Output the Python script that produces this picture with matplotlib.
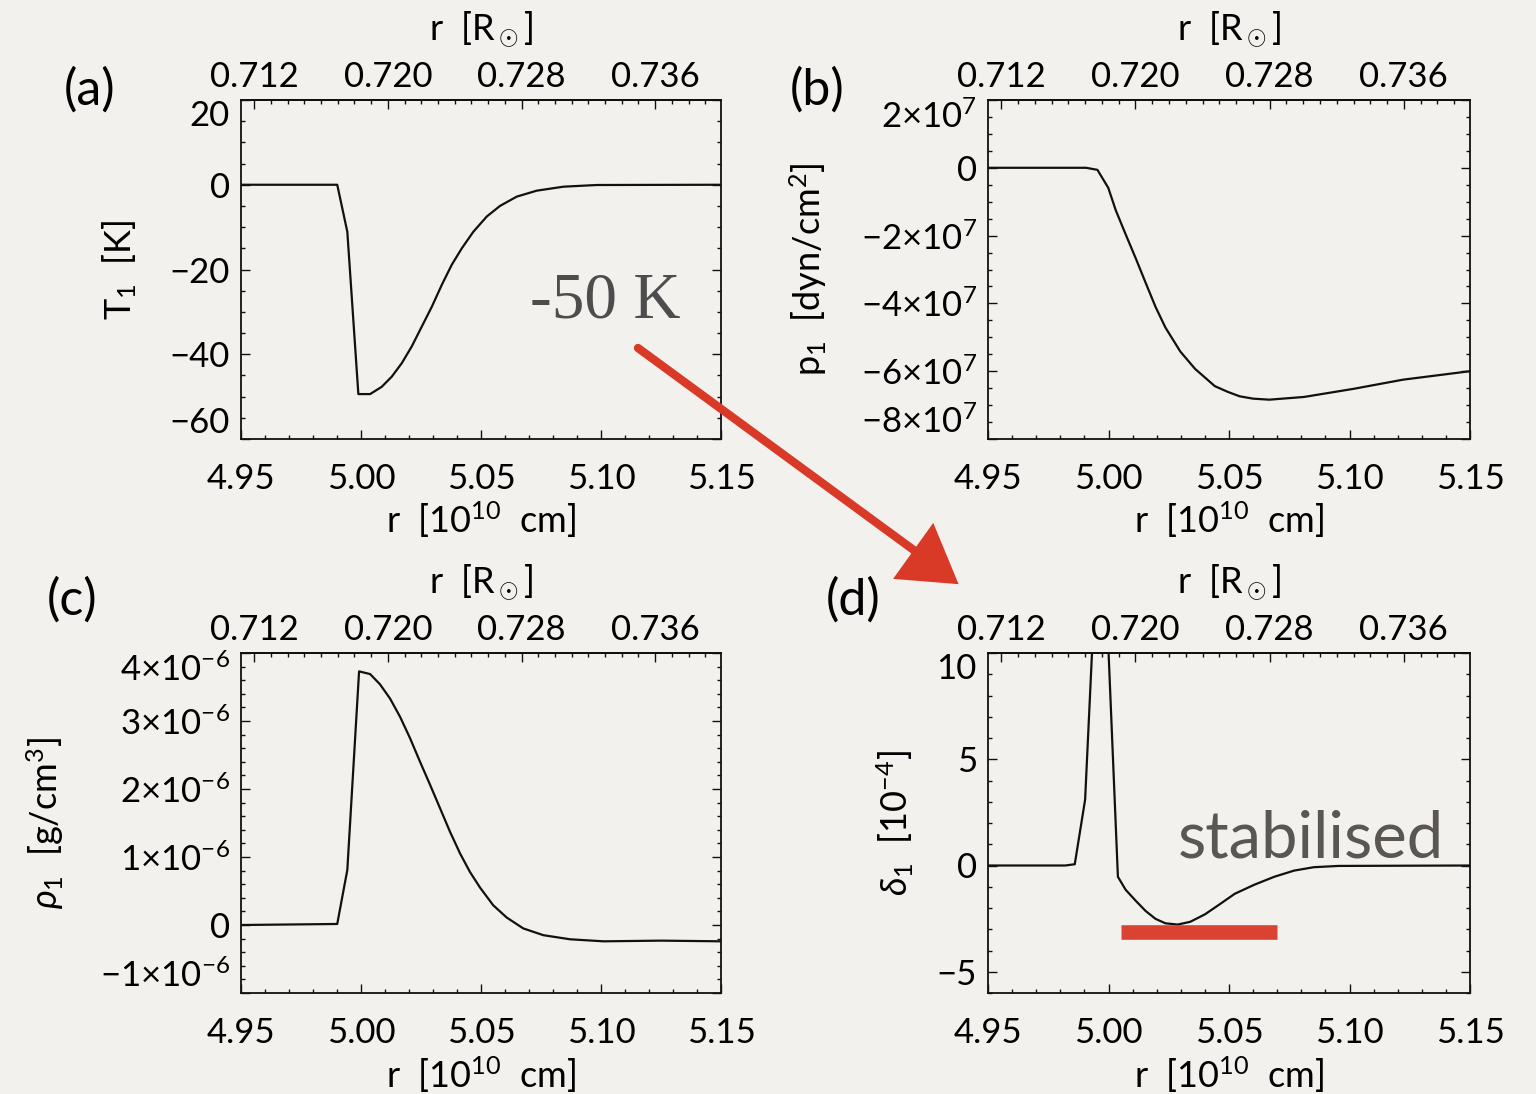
import matplotlib
matplotlib.use("Agg")
import matplotlib.pyplot as plt
from matplotlib.ticker import MultipleLocator, FixedLocator, FuncFormatter
from matplotlib.patches import Polygon
from matplotlib.lines import Line2D

plt.rcParams["font.family"] = ["Lato", "DejaVu Sans"]
plt.rcParams["mathtext.fontset"] = "custom"
plt.rcParams["mathtext.rm"] = "Lato"
plt.rcParams["mathtext.it"] = "Lato:italic"
plt.rcParams["mathtext.bf"] = "Lato:bold"

R_SUN = 6.96  # solar radius in 10^10 cm
BG = "#f2f1ee"
RED = "#d93a27"

# (a) temperature perturbation T1 [K]
r_T = [4.95, 4.9901, 4.9943, 4.9989, 5.0038, 5.0086, 5.0128, 5.017, 5.0211, 5.0253,
       5.0295, 5.0336, 5.0378, 5.042, 5.0468, 5.0524, 5.0579, 5.0649, 5.0732, 5.0843,
       5.0982, 5.15]
T1 = [0, 0, -11.1, -49.4, -49.4, -47.7, -45.3, -42.1, -38.2, -33.5,
      -28.8, -23.7, -18.9, -15.0, -11.1, -7.5, -5.0, -2.8, -1.4, -0.46,
      -0.06, 0]

# (b) pressure perturbation p1 [10^7 dyn/cm^2]
r_P = [4.95, 4.9907, 4.9954, 4.9999, 5.003, 5.0071, 5.0113, 5.0154, 5.0195, 5.0236,
       5.0298, 5.0359, 5.0441, 5.0495, 5.0544, 5.06, 5.0667, 5.0811, 5.1017, 5.1222, 5.15]
P1 = [0, 0, -0.06, -0.59, -1.25, -1.96, -2.67, -3.39, -4.10, -4.71,
      -5.42, -5.93, -6.44, -6.61, -6.74, -6.81, -6.84, -6.76, -6.52, -6.25, -6.0]

# (c) density perturbation rho1 [10^-6 g/cm^3]
r_rho = [4.95, 4.9901, 4.9943, 4.9992, 5.0038, 5.0079, 5.0121, 5.0163, 5.0204, 5.0246,
         5.0288, 5.0329, 5.0371, 5.0413, 5.0454, 5.0496, 5.0551, 5.0607, 5.0676, 5.076,
         5.0871, 5.101, 5.125, 5.15]
rho1 = [0, 0.015, 0.81, 3.73, 3.69, 3.54, 3.33, 3.06, 2.75, 2.40,
        2.06, 1.72, 1.37, 1.05, 0.78, 0.55, 0.29, 0.11, -0.05, -0.15,
        -0.21, -0.24, -0.23, -0.24]

# (d) superadiabaticity perturbation delta1 [10^-4]
r_d = [4.95, 4.9821, 4.986, 4.9903, 4.9948, 4.9993, 5.0039, 5.0071, 5.0113, 5.0154,
       5.0195, 5.0236, 5.0287, 5.0339, 5.04, 5.0462, 5.0524, 5.0606, 5.0688, 5.077,
       5.0852, 5.0955, 5.15]
d1 = [0, 0, 0.06, 3.1, 14.0, 12.0, -0.53, -1.14, -1.66, -2.14,
      -2.51, -2.72, -2.78, -2.65, -2.30, -1.82, -1.33, -0.90, -0.53, -0.24,
      -0.08, -0.02, 0]

top_ticks = [0.712, 0.720, 0.728, 0.736]
yticks_a = [-60, -40, -20, 0, 20]
yticks_b = [-8, -6, -4, -2, 0, 2]
yticks_c = [-1, 0, 1, 2, 3, 4]
yticks_d = [-5, 0, 5, 10]


def sci_label(exp):
    def fmt(v, pos):
        n = int(round(v))
        if n == 0:
            return "0"
        sign = "\u2212" if n < 0 else ""
        return f"{sign}{abs(n)}\u00d710$^{{{exp}}}$"
    return fmt


def plain_label(v, pos):
    return f"{v:g}".replace("-", "\u2212")


W, H = 1536, 1094
fig = plt.figure(figsize=(W / 100, H / 100), dpi=100, facecolor=BG)

boxes = {
    "a": (241, 100, 721, 439),
    "b": (988, 100, 1470, 439),
    "c": (241, 653, 721, 993),
    "d": (988, 653, 1470, 993),
}

panels = [
    ("a", r_T, T1, (-60, 20), yticks_a, 5, "T$_1$  [K]", -0.252, plain_label),
    ("b", r_P, P1, (-8, 2), yticks_b, 0.5, "p$_1$  [dyn/cm$^2$]", -0.373, sci_label("7")),
    ("c", r_rho, rho1, (-1, 4), yticks_c, 0.2, r"$\rho_1$  [g/cm$^3$]", -0.408, sci_label("-6")),
    ("d", r_d, d1, (-6, 10), yticks_d, 1, r"$\delta_1$  [10$^{-4}$]", -0.193, plain_label),
]

FS = 25
for key, x, y, ylim, yticks, minor, ylabel, ylab_x, yfmt in panels:
    x0, y0, x1, y1 = boxes[key]
    ax = fig.add_axes([x0 / W, 1 - y1 / H, (x1 - x0) / W, (y1 - y0) / H])
    ax.set_facecolor("none")
    ax.plot(x, y, color="#111111", lw=1.6)
    ax.set_xlim(4.95, 5.15)
    ax.set_ylim(*ylim)

    ax.xaxis.set_major_locator(MultipleLocator(0.05))
    ax.xaxis.set_minor_locator(MultipleLocator(0.01))
    ax.xaxis.set_major_formatter(FuncFormatter(lambda v, p: f"{v:.2f}"))
    ax.yaxis.set_major_locator(FixedLocator(yticks))
    ax.yaxis.set_minor_locator(MultipleLocator(minor))
    ax.yaxis.set_major_formatter(FuncFormatter(yfmt))

    ax.tick_params(which="both", direction="in", right=True, top=False, width=1.0,
                   labelsize=FS, color="#111111")
    ax.tick_params(which="major", length=6.5)
    ax.tick_params(which="minor", length=3.2)
    ax.tick_params(axis="x", pad=17)
    ax.tick_params(axis="y", pad=8)
    for s in ax.spines.values():
        s.set_linewidth(1.3)
        s.set_color("#111111")

    # end labels sit inside the axis range, as in the original IDL plot
    ticks = ax.yaxis.get_major_ticks()
    if yticks[-1] == ylim[1]:
        ticks[-1].label1.set_va("top")
    if yticks[0] == ylim[0]:
        ticks[0].label1.set_va("bottom")

    ax.set_xlabel("r  [10$^{10}$  cm]", fontsize=26)
    ax.xaxis.set_label_coords(0.5, -0.239)
    ax.xaxis.label.set_va("center")
    ax.set_ylabel(ylabel, fontsize=26)
    ax.yaxis.set_label_coords(ylab_x, 0.5)
    ax.yaxis.label.set_va("center")

    sec = ax.secondary_xaxis("top", functions=(lambda v: v / R_SUN, lambda v: v * R_SUN))
    sec.set_xticks(top_ticks)
    sec.xaxis.set_major_formatter(FuncFormatter(lambda v, p: f"{v:.3f}"))
    sec.xaxis.set_minor_locator(MultipleLocator(0.001))
    sec.tick_params(which="both", direction="in", width=1.0, labelsize=FS, pad=5,
                    color="#111111")
    sec.tick_params(which="major", length=6.5)
    sec.tick_params(which="minor", length=3.2)
    sec.spines["top"].set_linewidth(1.3)
    ax.text(0.5, 1.206, r"r  [R$_\odot$]", transform=ax.transAxes, fontsize=26,
            ha="center", va="center")

    if key == "d":
        ax.plot([5.0052, 5.0699], [-3.15, -3.15], color=RED, lw=10.5,
                solid_capstyle="butt", alpha=0.95)

# panel letters
for lab, (cx, cy) in {"(a)": (90, 90), "(b)": (817, 90),
                      "(c)": (72, 600), "(d)": (853, 600)}.items():
    fig.text(cx / W, 1 - cy / H, lab, fontsize=36, ha="center", va="center")

# annotations
fig.text(530 / W, 1 - 318 / H, "-50 K", family="Liberation Serif",
         fontsize=47, color="#4d4d4d", ha="left", va="baseline")
fig.text(1178 / W, 1 - 857 / H, "stabilised", family="Lato",
         fontsize=47, color="#5a5652", ha="left", va="baseline")

# hand-drawn red arrow from (a) to (d)
fig.add_artist(Line2D([638 / W, 915 / W], [1 - 348 / H, 1 - 551 / H],
                      color=RED, lw=6.0, solid_capstyle="round"))
head = [(957, 583), (895, 578), (933, 525)]
fig.add_artist(Polygon([(px / W, 1 - py / H) for px, py in head], closed=True,
                       facecolor=RED, edgecolor=RED, lw=1.5))

fig.savefig("out.png", dpi=100, facecolor=BG)
